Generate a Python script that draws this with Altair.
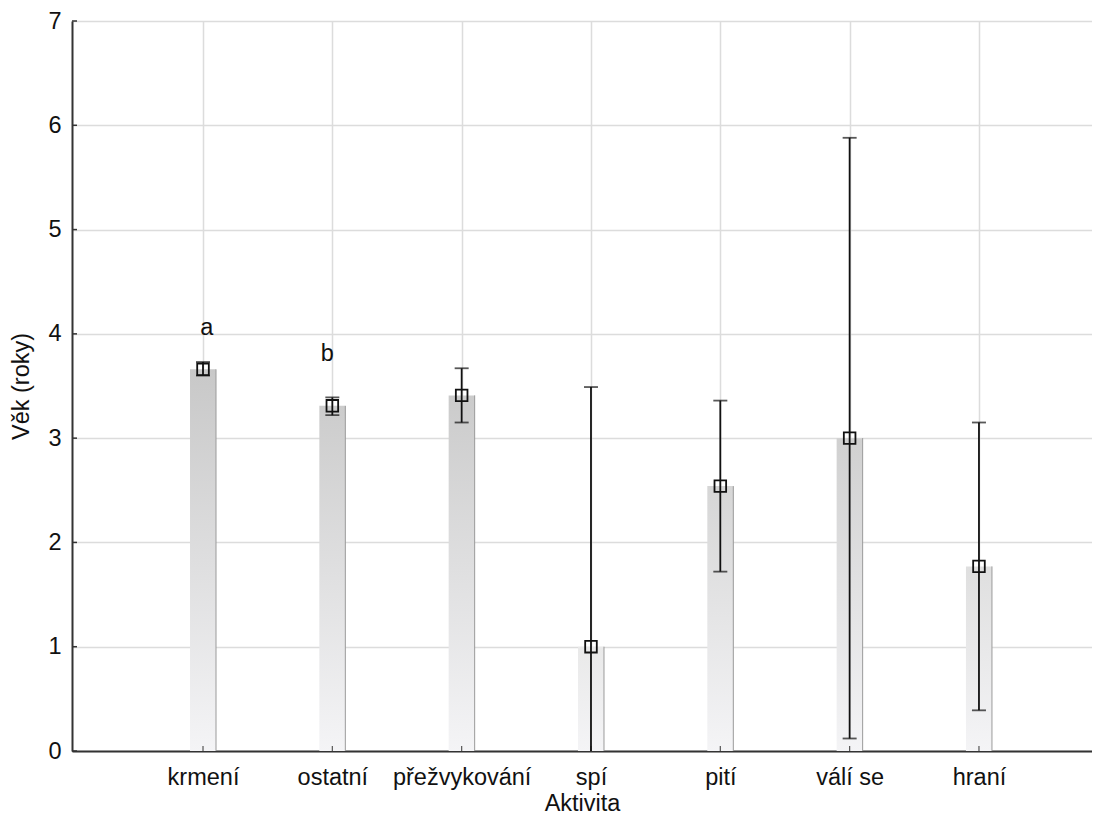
import altair as alt
import pandas as pd

categories = ["krmení", "ostatní", "přežvykování", "spí", "pití", "válí se", "hraní"]
means = [3.66, 3.31, 3.41, 1.00, 2.54, 3.00, 1.77]
lower = [3.60, 3.22, 3.15, -1.49, 1.72, 0.12, 0.39]
upper = [3.73, 3.39, 3.67, 3.49, 3.36, 5.88, 3.15]
y_ticks = [0, 1, 2, 3, 4, 5, 6, 7]
letters = ["a", "b"]
letter_pos = [1.03, 1.96]
letter_y = [4.06, 3.81]

idx = list(range(1, len(categories) + 1))
df = pd.DataFrame({"cat": categories, "i": idx, "m": means, "lo": lower, "hi": upper})
df_letters = pd.DataFrame({"t": letters, "i": letter_pos, "v": letter_y})
df_yt = pd.DataFrame({"v": y_ticks})

FONT = "Liberation Sans"
FS = 23.5
names_js = "[" + ",".join("'" + c + "'" for c in categories) + "]"

xscale = alt.Scale(domain=[-0.013, 7.874], nice=False, zero=False, padding=0)
yscale = alt.Scale(domain=[0, 7], nice=False, padding=0)

X = alt.X(
    "i:Q",
    scale=xscale,
    axis=alt.Axis(
        values=idx,
        labelExpr=names_js + "[datum.value-1]",
        title="Aktivita",
        grid=True,
        gridColor="#dcdcdc",
        gridWidth=1.5,
        ticks=False,
        domainColor="#333333",
        domainWidth=2,
        labelFont=FONT,
        labelFontSize=FS,
        labelColor="#111111",
        labelPadding=14,
        titleFont=FONT,
        titleFontSize=FS,
        titleFontWeight="normal",
        titleColor="#111111",
        titlePadding=3,
    ),
)
Y = alt.Y(
    "m:Q",
    scale=yscale,
    axis=alt.Axis(
        values=y_ticks,
        format="d",
        title="Věk (roky)",
        grid=True,
        gridColor="#dcdcdc",
        gridWidth=1.5,
        ticks=False,
        domainColor="#333333",
        domainWidth=2,
        labelFont=FONT,
        labelFontSize=FS,
        labelColor="#111111",
        labelPadding=11,
        titleFont=FONT,
        titleFontSize=FS,
        titleFontWeight="normal",
        titleColor="#111111",
        titlePadding=14,
    ),
)

layers = []
for k in range(len(categories)):
    g = int(round(245 - 12.3 * means[k]))
    top = "#{0:02x}{0:02x}{0:02x}".format(g)
    grad = alt.Gradient(
        gradient="linear",
        stops=[alt.GradientStop(color=top, offset=0), alt.GradientStop(color="#f4f4f6", offset=1)],
        x1=0, x2=0, y1=0, y2=1,
    )
    bar = alt.Chart(df.iloc[[k]]).mark_bar(size=26, color=grad).encode(
        x=X, y=Y
    )
    layers.append(bar)

base = alt.Chart(df)
edge = base.mark_rule(color="#9a9a9a", strokeWidth=1, xOffset=13).encode(
    x="i:Q", y=alt.Y("m:Q"), y2=alt.Y2(datum=0)
)
err = base.mark_rule(color="#111111", strokeWidth=1.8, clip=True).encode(
    x="i:Q", y="lo:Q", y2="hi:Q"
)
cap_hi = base.mark_tick(color="#111111", thickness=1.8, size=14, orient="horizontal", clip=True).encode(
    x="i:Q", y="hi:Q"
)
cap_lo = base.mark_tick(color="#111111", thickness=1.8, size=14, orient="horizontal", clip=True).encode(
    x="i:Q", y="lo:Q"
)
pts = base.mark_point(shape="square", size=135, filled=False, color="#111111", strokeWidth=1.8, opacity=1).encode(
    x="i:Q", y="m:Q"
)
txt = alt.Chart(df_letters).mark_text(font=FONT, fontSize=FS, color="#111111", baseline="middle").encode(
    x="i:Q", y="v:Q", text="t:N"
)
yt = alt.Chart(df_yt).mark_rule(color="#333333", strokeWidth=1.5).encode(
    x=alt.value(0), x2=alt.value(5), y=alt.Y("v:Q")
)
xt = alt.Chart(df).mark_rule(color="#555555", strokeWidth=1.2).encode(
    x="i:Q", y=alt.value(730), y2=alt.value(725)
)

chart = alt.layer(*layers, edge, xt, yt, err, cap_hi, cap_lo, pts, txt).properties(
    width=1020,
    height=730,
    autosize=alt.AutoSizeParams(type="none"),
    padding={"left": 64, "top": 13, "right": 0, "bottom": 66},
).configure_view(stroke="#333333", strokeWidth=2).configure(background="white")

chart.save("out.html", embed_options={"renderer": "svg", "actions": False})
